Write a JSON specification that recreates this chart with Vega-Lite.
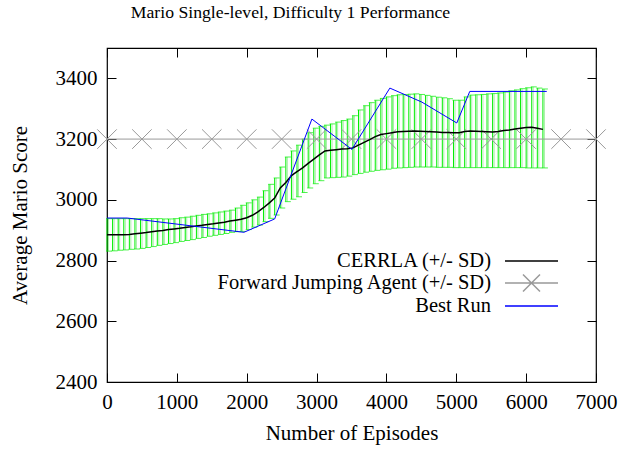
{
  "$schema": "https://vega.github.io/schema/vega-lite/v6.json",
  "width": 489,
  "height": 334,
  "autosize": "none",
  "padding": {"left": 107, "top": 48, "right": 35, "bottom": 71},
  "background": "white",
  "title": {"text": "Mario Single-level, Difficulty 1 Performance", "font": "Liberation Serif", "fontSize": 17.7, "fontWeight": "normal", "color": "#000", "offset": 26, "dx": -61},
  "config": {
    "view": {"stroke": "#000", "strokeWidth": 1.2},
    "font": "Liberation Serif",
    "legend": {
      "orient": "none", "legendX": 413.5, "legendY": 202, "labelAlign": "right", "labelOffset": -51.5,
      "labelFont": "Liberation Serif", "labelFontSize": 20.5, "labelColor": "#000", "labelLimit": 0,
      "symbolType": "M-2.65,0L2.65,0", "symbolSize": 400, "symbolStrokeWidth": 1.5, "rowPadding": -1.5, "padding": 0
    }
  },
  "datasets": {
    "cerrla": [
      {"ep":0,"mean":2885,"lo":2831,"hi":2938,"series":"CERRLA (+/- SD)"},
      {"ep":80,"mean":2885,"lo":2832,"hi":2938,"series":"CERRLA (+/- SD)"},
      {"ep":160,"mean":2885,"lo":2834,"hi":2938,"series":"CERRLA (+/- SD)"},
      {"ep":240,"mean":2885,"lo":2835,"hi":2938,"series":"CERRLA (+/- SD)"},
      {"ep":320,"mean":2886,"lo":2837,"hi":2938,"series":"CERRLA (+/- SD)"},
      {"ep":400,"mean":2888,"lo":2838,"hi":2938,"series":"CERRLA (+/- SD)"},
      {"ep":480,"mean":2890,"lo":2840,"hi":2938,"series":"CERRLA (+/- SD)"},
      {"ep":560,"mean":2892,"lo":2843,"hi":2938,"series":"CERRLA (+/- SD)"},
      {"ep":640,"mean":2895,"lo":2846,"hi":2938,"series":"CERRLA (+/- SD)"},
      {"ep":720,"mean":2897,"lo":2850,"hi":2938,"series":"CERRLA (+/- SD)"},
      {"ep":800,"mean":2899,"lo":2853,"hi":2937,"series":"CERRLA (+/- SD)"},
      {"ep":880,"mean":2902,"lo":2856,"hi":2937,"series":"CERRLA (+/- SD)"},
      {"ep":960,"mean":2904,"lo":2859,"hi":2938,"series":"CERRLA (+/- SD)"},
      {"ep":1040,"mean":2906,"lo":2863,"hi":2941,"series":"CERRLA (+/- SD)"},
      {"ep":1120,"mean":2909,"lo":2866,"hi":2943,"series":"CERRLA (+/- SD)"},
      {"ep":1200,"mean":2911,"lo":2869,"hi":2946,"series":"CERRLA (+/- SD)"},
      {"ep":1280,"mean":2914,"lo":2873,"hi":2949,"series":"CERRLA (+/- SD)"},
      {"ep":1360,"mean":2916,"lo":2876,"hi":2952,"series":"CERRLA (+/- SD)"},
      {"ep":1440,"mean":2919,"lo":2880,"hi":2954,"series":"CERRLA (+/- SD)"},
      {"ep":1520,"mean":2921,"lo":2883,"hi":2957,"series":"CERRLA (+/- SD)"},
      {"ep":1600,"mean":2924,"lo":2886,"hi":2960,"series":"CERRLA (+/- SD)"},
      {"ep":1680,"mean":2926,"lo":2889,"hi":2963,"series":"CERRLA (+/- SD)"},
      {"ep":1760,"mean":2930,"lo":2893,"hi":2966,"series":"CERRLA (+/- SD)"},
      {"ep":1840,"mean":2933,"lo":2895,"hi":2973,"series":"CERRLA (+/- SD)"},
      {"ep":1920,"mean":2936,"lo":2896,"hi":2982,"series":"CERRLA (+/- SD)"},
      {"ep":2000,"mean":2941,"lo":2902,"hi":2990,"series":"CERRLA (+/- SD)"},
      {"ep":2080,"mean":2949,"lo":2910,"hi":3000,"series":"CERRLA (+/- SD)"},
      {"ep":2160,"mean":2960,"lo":2917,"hi":3009,"series":"CERRLA (+/- SD)"},
      {"ep":2240,"mean":2974,"lo":2928,"hi":3030,"series":"CERRLA (+/- SD)"},
      {"ep":2320,"mean":2989,"lo":2939,"hi":3051,"series":"CERRLA (+/- SD)"},
      {"ep":2400,"mean":3006,"lo":2950,"hi":3072,"series":"CERRLA (+/- SD)"},
      {"ep":2480,"mean":3039,"lo":2973,"hi":3108,"series":"CERRLA (+/- SD)"},
      {"ep":2560,"mean":3057,"lo":2994,"hi":3141,"series":"CERRLA (+/- SD)"},
      {"ep":2640,"mean":3080,"lo":3002,"hi":3161,"series":"CERRLA (+/- SD)"},
      {"ep":2720,"mean":3093,"lo":3010,"hi":3180,"series":"CERRLA (+/- SD)"},
      {"ep":2800,"mean":3105,"lo":3024,"hi":3200,"series":"CERRLA (+/- SD)"},
      {"ep":2880,"mean":3120,"lo":3039,"hi":3221,"series":"CERRLA (+/- SD)"},
      {"ep":2960,"mean":3134,"lo":3053,"hi":3236,"series":"CERRLA (+/- SD)"},
      {"ep":3040,"mean":3148,"lo":3063,"hi":3242,"series":"CERRLA (+/- SD)"},
      {"ep":3120,"mean":3161,"lo":3072,"hi":3246,"series":"CERRLA (+/- SD)"},
      {"ep":3200,"mean":3163,"lo":3073,"hi":3250,"series":"CERRLA (+/- SD)"},
      {"ep":3280,"mean":3165,"lo":3074,"hi":3256,"series":"CERRLA (+/- SD)"},
      {"ep":3360,"mean":3167,"lo":3075,"hi":3261,"series":"CERRLA (+/- SD)"},
      {"ep":3440,"mean":3168,"lo":3078,"hi":3266,"series":"CERRLA (+/- SD)"},
      {"ep":3520,"mean":3171,"lo":3083,"hi":3277,"series":"CERRLA (+/- SD)"},
      {"ep":3600,"mean":3180,"lo":3087,"hi":3296,"series":"CERRLA (+/- SD)"},
      {"ep":3680,"mean":3189,"lo":3091,"hi":3310,"series":"CERRLA (+/- SD)"},
      {"ep":3760,"mean":3198,"lo":3094,"hi":3320,"series":"CERRLA (+/- SD)"},
      {"ep":3840,"mean":3208,"lo":3097,"hi":3328,"series":"CERRLA (+/- SD)"},
      {"ep":3920,"mean":3215,"lo":3099,"hi":3334,"series":"CERRLA (+/- SD)"},
      {"ep":4000,"mean":3218,"lo":3101,"hi":3339,"series":"CERRLA (+/- SD)"},
      {"ep":4080,"mean":3221,"lo":3104,"hi":3343,"series":"CERRLA (+/- SD)"},
      {"ep":4160,"mean":3224,"lo":3105,"hi":3346,"series":"CERRLA (+/- SD)"},
      {"ep":4240,"mean":3225,"lo":3106,"hi":3347,"series":"CERRLA (+/- SD)"},
      {"ep":4320,"mean":3226,"lo":3107,"hi":3348,"series":"CERRLA (+/- SD)"},
      {"ep":4400,"mean":3227,"lo":3108,"hi":3349,"series":"CERRLA (+/- SD)"},
      {"ep":4480,"mean":3226,"lo":3108,"hi":3347,"series":"CERRLA (+/- SD)"},
      {"ep":4560,"mean":3225,"lo":3108,"hi":3344,"series":"CERRLA (+/- SD)"},
      {"ep":4640,"mean":3224,"lo":3108,"hi":3341,"series":"CERRLA (+/- SD)"},
      {"ep":4720,"mean":3223,"lo":3107,"hi":3338,"series":"CERRLA (+/- SD)"},
      {"ep":4800,"mean":3222,"lo":3107,"hi":3336,"series":"CERRLA (+/- SD)"},
      {"ep":4880,"mean":3222,"lo":3107,"hi":3333,"series":"CERRLA (+/- SD)"},
      {"ep":4960,"mean":3221,"lo":3106,"hi":3328,"series":"CERRLA (+/- SD)"},
      {"ep":5040,"mean":3221,"lo":3106,"hi":3328,"series":"CERRLA (+/- SD)"},
      {"ep":5120,"mean":3225,"lo":3106,"hi":3339,"series":"CERRLA (+/- SD)"},
      {"ep":5200,"mean":3227,"lo":3106,"hi":3345,"series":"CERRLA (+/- SD)"},
      {"ep":5280,"mean":3226,"lo":3106,"hi":3346,"series":"CERRLA (+/- SD)"},
      {"ep":5360,"mean":3225,"lo":3106,"hi":3347,"series":"CERRLA (+/- SD)"},
      {"ep":5440,"mean":3224,"lo":3106,"hi":3349,"series":"CERRLA (+/- SD)"},
      {"ep":5520,"mean":3223,"lo":3106,"hi":3350,"series":"CERRLA (+/- SD)"},
      {"ep":5600,"mean":3225,"lo":3106,"hi":3352,"series":"CERRLA (+/- SD)"},
      {"ep":5680,"mean":3228,"lo":3106,"hi":3355,"series":"CERRLA (+/- SD)"},
      {"ep":5760,"mean":3230,"lo":3106,"hi":3359,"series":"CERRLA (+/- SD)"},
      {"ep":5840,"mean":3233,"lo":3106,"hi":3362,"series":"CERRLA (+/- SD)"},
      {"ep":5920,"mean":3236,"lo":3106,"hi":3366,"series":"CERRLA (+/- SD)"},
      {"ep":6000,"mean":3238,"lo":3105,"hi":3369,"series":"CERRLA (+/- SD)"},
      {"ep":6080,"mean":3239,"lo":3105,"hi":3372,"series":"CERRLA (+/- SD)"},
      {"ep":6160,"mean":3236,"lo":3105,"hi":3368,"series":"CERRLA (+/- SD)"},
      {"ep":6240,"mean":3232,"lo":3105,"hi":3365,"series":"CERRLA (+/- SD)"}
    ],
    "best": [
      {"ep":0,"score":2940,"series":"Best Run"},
      {"ep":290,"score":2940,"series":"Best Run"},
      {"ep":1960,"score":2893,"series":"Best Run"},
      {"ep":2400,"score":2937,"series":"Best Run"},
      {"ep":2933,"score":3266,"series":"Best Run"},
      {"ep":3505,"score":3166,"series":"Best Run"},
      {"ep":4049,"score":3368,"series":"Best Run"},
      {"ep":4506,"score":3322,"series":"Best Run"},
      {"ep":5007,"score":3253,"series":"Best Run"},
      {"ep":5193,"score":3357,"series":"Best Run"},
      {"ep":6295,"score":3357,"series":"Best Run"}
    ],
    "forward": [
      {"ep":0,"score":3200,"series":"Forward Jumping Agent (+/- SD)"},
      {"ep":500,"score":3200,"series":"Forward Jumping Agent (+/- SD)"},
      {"ep":1000,"score":3200,"series":"Forward Jumping Agent (+/- SD)"},
      {"ep":1500,"score":3200,"series":"Forward Jumping Agent (+/- SD)"},
      {"ep":2000,"score":3200,"series":"Forward Jumping Agent (+/- SD)"},
      {"ep":2500,"score":3200,"series":"Forward Jumping Agent (+/- SD)"},
      {"ep":3000,"score":3200,"series":"Forward Jumping Agent (+/- SD)"},
      {"ep":3500,"score":3200,"series":"Forward Jumping Agent (+/- SD)"},
      {"ep":4000,"score":3200,"series":"Forward Jumping Agent (+/- SD)"},
      {"ep":4500,"score":3200,"series":"Forward Jumping Agent (+/- SD)"},
      {"ep":5000,"score":3200,"series":"Forward Jumping Agent (+/- SD)"},
      {"ep":5500,"score":3200,"series":"Forward Jumping Agent (+/- SD)"},
      {"ep":6000,"score":3200,"series":"Forward Jumping Agent (+/- SD)"},
      {"ep":6500,"score":3200,"series":"Forward Jumping Agent (+/- SD)"},
      {"ep":7000,"score":3200,"series":"Forward Jumping Agent (+/- SD)"}
    ]
  },
  "resolve": {"axis": {"x": "independent", "y": "independent"}},
  "layer": [
    {
      "data": {"name": "cerrla"},
      "mark": {"type": "rule", "color": "#a8f0a8", "strokeWidth": 1, "xOffset": 1.5},
      "encoding": {
        "x": {"field": "ep", "type": "quantitative", "scale": {"domain": [0, 7000], "nice": false, "zero": false},
          "axis": {"orient": "bottom", "values": [0,1000,2000,3000,4000,5000,6000,7000], "format": "d", "tickSize": -9, "tickColor": "#000", "domain": false, "grid": false,
            "labelFont": "Liberation Serif", "labelFontSize": 21, "labelColor": "#000", "labelPadding": 18, "labelFlush": false, "labelOverlap": false,
            "title": "Number of Episodes", "titleFont": "Liberation Serif", "titleFontSize": 21, "titleFontWeight": "normal", "titleColor": "#000", "titlePadding": 10}},
        "y": {"field": "lo", "type": "quantitative", "scale": {"domain": [2400, 3500], "nice": false, "zero": false},
          "axis": {"orient": "left", "values": [2400,2600,2800,3000,3200,3400], "format": "d", "tickSize": -9, "tickColor": "#000", "domain": false, "grid": false,
            "labelFont": "Liberation Serif", "labelFontSize": 21, "labelColor": "#000", "labelPadding": 19,
            "title": "Average Mario Score", "titleFont": "Liberation Serif", "titleFontSize": 21, "titleFontWeight": "normal", "titleColor": "#000", "titlePadding": 25}},
        "y2": {"field": "hi"}
      }
    },
    {
      "data": {"name": "cerrla"},
      "mark": {"type": "rule", "color": "#00ee00", "strokeWidth": 1},
      "encoding": {
        "x": {"field": "ep", "type": "quantitative", "axis": null},
        "y": {"field": "lo", "type": "quantitative", "axis": null},
        "y2": {"field": "hi"}
      }
    },
    {
      "data": {"name": "cerrla"},
      "mark": {"type": "tick", "orient": "horizontal", "color": "#00ee00", "size": 6, "thickness": 1, "xOffset": 2},
      "encoding": {
        "x": {"field": "ep", "type": "quantitative", "axis": null},
        "y": {"field": "hi", "type": "quantitative", "axis": null}
      }
    },
    {
      "data": {"name": "cerrla"},
      "mark": {"type": "tick", "orient": "horizontal", "color": "#00ee00", "size": 6, "thickness": 1, "xOffset": 2},
      "encoding": {
        "x": {"field": "ep", "type": "quantitative", "axis": null},
        "y": {"field": "lo", "type": "quantitative", "axis": null}
      }
    },
    {
      "data": {"name": "forward"},
      "mark": {"type": "line", "strokeWidth": 1},
      "encoding": {
        "x": {"field": "ep", "type": "quantitative",
          "axis": {"orient": "top", "values": [0,1000,2000,3000,4000,5000,6000,7000], "tickSize": -9, "tickColor": "#000", "domain": false, "grid": false, "labels": false, "title": null}},
        "y": {"field": "score", "type": "quantitative",
          "axis": {"orient": "right", "values": [2400,2600,2800,3000,3200,3400], "tickSize": -9, "tickColor": "#000", "domain": false, "grid": false, "labels": false, "title": null}},
        "color": {"field": "series", "type": "nominal",
          "scale": {"domain": ["CERRLA (+/- SD)", "Forward Jumping Agent (+/- SD)", "Best Run"], "range": ["#000000", "#999999", "#0000ff"]},
          "legend": {"title": null, "encode": {"symbols": {"update": {"shape": {"signal": "datum.value === 'Forward Jumping Agent (+/- SD)' ? 'M-2.65,0L2.65,0M-0.85,-0.85L0.85,0.85M0.85,-0.85L-0.85,0.85' : 'M-2.65,0L2.65,0'"}}}}}
        }
      }
    },
    {
      "data": {"name": "forward"},
      "mark": {"type": "point", "shape": "M-1,-1L1,1M1,-1L-1,1", "size": 380, "filled": false, "color": "#999999", "strokeWidth": 1, "opacity": 1},
      "encoding": {
        "x": {"field": "ep", "type": "quantitative", "axis": null},
        "y": {"field": "score", "type": "quantitative", "axis": null}
      }
    },
    {
      "data": {"name": "cerrla"},
      "mark": {"type": "line", "strokeWidth": 1.5},
      "encoding": {
        "x": {"field": "ep", "type": "quantitative", "axis": null},
        "y": {"field": "mean", "type": "quantitative", "axis": null},
        "color": {"field": "series", "type": "nominal"}
      }
    },
    {
      "data": {"name": "best"},
      "mark": {"type": "line", "strokeWidth": 1},
      "encoding": {
        "x": {"field": "ep", "type": "quantitative", "axis": null},
        "y": {"field": "score", "type": "quantitative", "axis": null},
        "color": {"field": "series", "type": "nominal"}
      }
    }
  ]
}
